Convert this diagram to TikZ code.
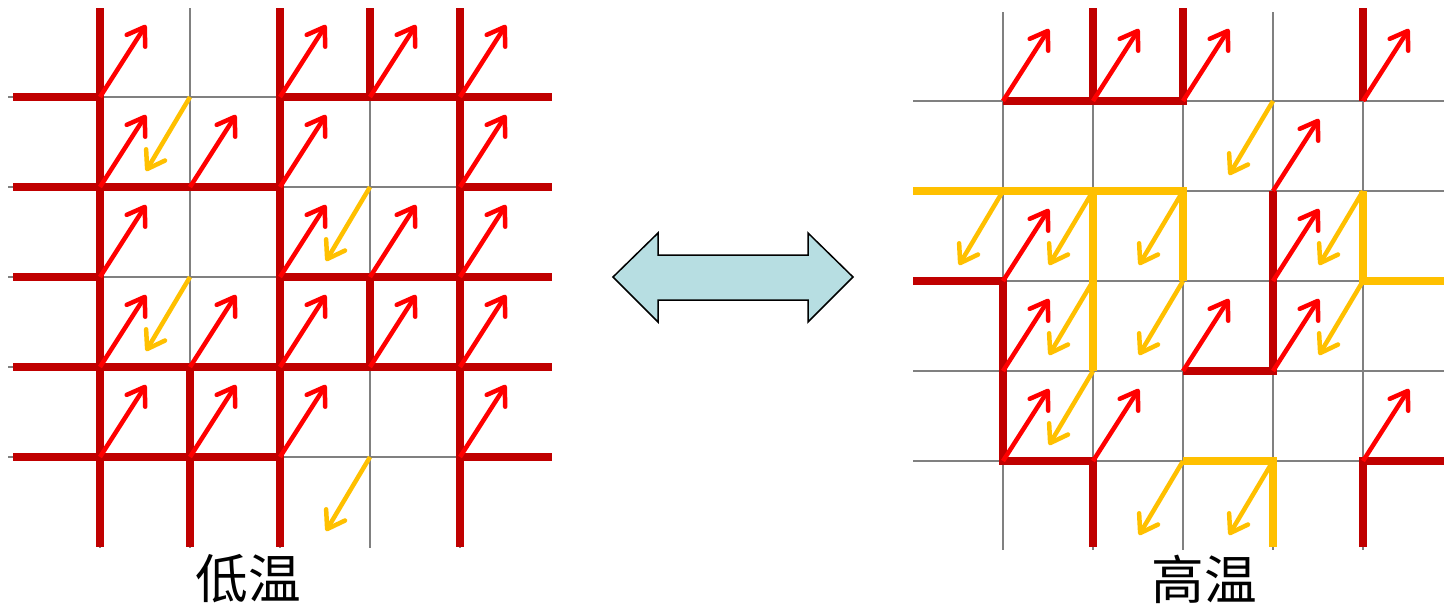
\documentclass[tikz,border=0pt]{standalone}
\usepackage{fontspec}
\newfontfamily\cjkfont{Noto Sans CJK SC}
\usetikzlibrary{arrows.meta}
\definecolor{wallred}{RGB}{192,0,0}
\definecolor{spinred}{RGB}{255,0,0}
\definecolor{spinyel}{RGB}{255,192,0}
\definecolor{gridgray}{RGB}{128,128,128}
\definecolor{swapblue}{RGB}{183,222,226}

\begin{document}
\begin{tikzpicture}[x=0.02cm, y=-0.02cm,
    grid/.style={gridgray, line width=0.045cm},
    wall/.style={line width=0.15cm},
    spin/.style={line width=0.09cm, -{Straight Barb[length=0.33cm, width=0.44cm, round]}},
    templabel/.style={font=\cjkfont\fontsize{30pt}{36pt}\selectfont, inner sep=0pt}]
    \useasboundingbox (0,0) rectangle (1444,606);

    % lattice sites and the free ends of the edge bonds
    \foreach \i in {0,...,4} {
        \foreach \j in {0,...,4} {
            \coordinate (L\i\j) at ({100+90*\i}, {97+90*\j});
            \coordinate (R\i\j) at ({1003+90*\i}, {101+90*\j});
        }
        \coordinate (Lt\i) at ({100+90*\i}, 8); \coordinate (Lb\i) at ({100+90*\i}, 547);
        \coordinate (Ll\i) at (13, {97+90*\i}); \coordinate (Lr\i) at (552, {97+90*\i});
        \coordinate (Rt\i) at ({1003+90*\i}, 8); \coordinate (Rb\i) at ({1003+90*\i}, 547);
        \coordinate (Rl\i) at (913, {101+90*\i}); \coordinate (Rr\i) at (1444, {101+90*\i});
        \draw[grid] ({100+90*\i}, 8) -- ({100+90*\i}, 548);
        \draw[grid] (8, {97+90*\i}) -- (552, {97+90*\i});
        \draw[grid] ({1003+90*\i}, 12) -- ({1003+90*\i}, 550);
        \draw[grid] (913, {101+90*\i}) -- (1444, {101+90*\i});
    }

    % low temperature
    \draw[wall, wallred] (Lt0) -- (Lb0) (Lt2) -- (Lb2) (Lt4) -- (Lb4);
    \draw[wall, wallred] (L13) -- (Lb1) (Lt3) -- (L30) (L32) -- (L33);
    \draw[wall, wallred] (Ll0) -- (L00) (L20) -- (Lr0);
    \draw[wall, wallred] (Ll1) -- (L21) (L41) -- (Lr1);
    \draw[wall, wallred] (Ll2) -- (L02) (L22) -- (Lr2);
    \draw[wall, wallred] (Ll3) -- (Lr3);
    \draw[wall, wallred] (Ll4) -- (L24) (L44) -- (Lr4);

    % high temperature
    \draw[wall, wallred] (R00) -- (R20) -- (Rt2) (Rt1) -- (R10) (Rt4) -- (R40);
    \draw[wall, wallred] (R31) -- (R33) -- (R23);
    \draw[wall, wallred] (Rl2) -- (R02) -- (R04) -- (R14) -- (Rb1);
    \draw[wall, wallred] (Rb4) -- (R44) -- (Rr4);
    \draw[wall, spinyel] (Rl1) -- (R21) -- (R22) (R11) -- (R13);
    \draw[wall, spinyel] (R41) -- (R42) -- (Rr2);
    \draw[wall, spinyel] (R24) -- (R34) -- (Rb3);

    \foreach \p in {00,20,30,40, 01,11,21,41, 02,22,32,42, 03,13,23,33,43, 04,14,24,44}
        \draw[spin, spinred] (L\p) -- ++(46,-72);
    \foreach \p in {10,31,12,34}
        \draw[spin, spinyel] (L\p) -- ++(-44,74);
    \foreach \p in {00,10,20,40, 31, 02,32, 03,23,33, 04,14,44}
        \draw[spin, spinred] (R\p) -- ++(46,-72);
    \foreach \p in {30, 01,11,21,41, 12,22,42, 13, 24,34}
        \draw[spin, spinyel] (R\p) -- ++(-44,74);

    \draw[fill=swapblue, line width=0.03cm]
        (613,277) -- (658,233) -- (658,255) -- (808,255) -- (808,233) -- (853,277)
        -- (808,322) -- (808,300) -- (658,300) -- (658,322) -- cycle;

    \node[templabel] (low) at (248,579) {低温};
    \node[templabel] (high) at (1204,579) {高温};
\end{tikzpicture}
\end{document}
